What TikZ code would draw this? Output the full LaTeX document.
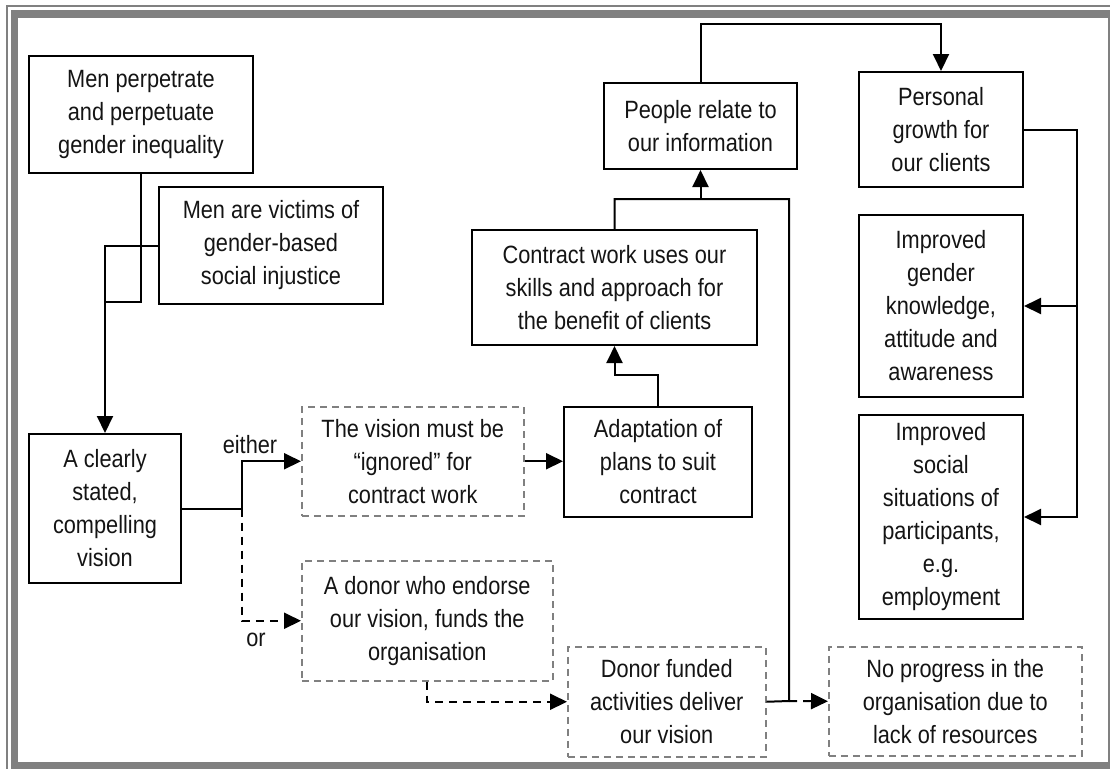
\documentclass[tikz,border=0pt]{standalone}
\usepackage{fontspec}
\setmainfont{Liberation Sans}[FakeStretch=0.87]
\usetikzlibrary{arrows.meta}
\definecolor{fg}{RGB}{128,128,128}
\definecolor{ink}{RGB}{20,20,20}
\begin{document}
\begin{tikzpicture}[x=1pt,y=-1pt,
  box/.style={draw=black, line width=2pt, anchor=north west, inner sep=0pt, align=center, text=ink, font=\fontsize{25}{33}\selectfont},
  dbox/.style={box, draw=fg, line width=1.5pt, dash pattern=on 7pt off 5pt},
  conn/.style={line width=2pt},
  arr/.style={conn, -{Triangle[length=17pt,width=16pt]}},
  darr/.style={arr, dash pattern=on 8pt off 6pt},
  dconn/.style={conn, dash pattern=on 8pt off 6pt},
  lbl/.style={font=\fontsize{25}{33}\selectfont, inner sep=0pt, text=ink}]
\useasboundingbox (0,0) rectangle (1110,769);
% frame
\fill[fg] (6,5) rectangle (1110,7);
\fill[fg] (6,5) rectangle (8,769);
\fill[fg] (11,10) rectangle (1110,18);
\fill[fg] (11,10) rectangle (18,769);
\fill[fg] (18,762) rectangle (1110,769);
\fill[fg] (1108,18) rectangle (1110,769);
% nodes
\node[box, minimum width=224pt, minimum height=117pt] (perp) at (28,55) {Men perpetrate\\and perpetuate\\gender inequality};
\node[box, minimum width=224pt, minimum height=117pt] (victims) at (158,186) {Men are victims of\\gender-based\\social injustice};
\node[box, minimum width=152pt, minimum height=149pt] (vision) at (28,433) {A clearly\\stated,\\compelling\\vision};
\node[dbox, minimum width=222pt, minimum height=109pt] (ignored) at (301,406) {The vision must be\\“ignored” for\\contract work};
\node[box, minimum width=188pt, minimum height=110pt] (adapt) at (563,406) {Adaptation of\\plans to suit\\contract};
\node[box, minimum width=285pt, minimum height=115pt] (contract) at (471,229) {Contract work uses our\\skills and approach for\\the benefit of clients};
\node[box, minimum width=193pt, minimum height=86pt] (people) at (603,82) {People relate to\\our information};
\node[box, minimum width=164pt, minimum height=115pt] (personal) at (858,71) {Personal\\growth for\\our clients};
\node[box, minimum width=164pt, minimum height=182pt] (gender) at (858,214) {Improved\\gender\\knowledge,\\attitude and\\awareness};
\node[box, minimum width=164pt, minimum height=204pt] (social) at (858,414) {Improved\\social\\situations of\\participants,\\e.g.\\employment};
\node[dbox, minimum width=251pt, minimum height=120pt] (donor) at (301,560) {A donor who endorse\\our vision, funds the\\organisation};
\node[dbox, minimum width=198pt, minimum height=110pt] (donorf) at (567,646) {Donor funded\\activities deliver\\our vision};
\node[dbox, minimum width=253pt, minimum height=109pt] (noprog) at (828,646) {No progress in the\\organisation due to\\lack of resources};
\node[lbl] (either) at (250,445) {either};
\node[lbl] (or) at (256,640) {or};
% connectors
\coordinate (m1) at (104,302);
\draw[conn] (perp.south) |- (m1);
\draw[arr] (victims.west) -| (vision.north);
\path (vision.east) -- ++(60,0) coordinate (b);
\draw[arr] (vision.east) -- (b) |- (ignored.west);
\draw[darr] (b) |- (donor.west);
\draw[arr] (ignored.east) -- (ignored.east -| adapt.west);
\draw[arr] (adapt.north) -- ++(0,-31) -| (contract.south);
\coordinate (j2) at (789,199);
\coordinate (j1) at (789,701);
\draw[conn] (contract.north) |- (j2) -- (j1) -- (donorf.east);
\draw[arr] (people.south |- j2) -- (people.south);
\draw[darr] (j1) -- (noprog.west);
\draw[darr] (donor.south) |- (donorf.west);
\draw[arr] (people.north) -- ++(0,-58) -| (personal.north);
\draw[arr] (personal.east) -- ++(53,0) coordinate (r1) |- (social.east);
\draw[arr] (gender.east -| r1) -- (gender.east);
\end{tikzpicture}
\end{document}
